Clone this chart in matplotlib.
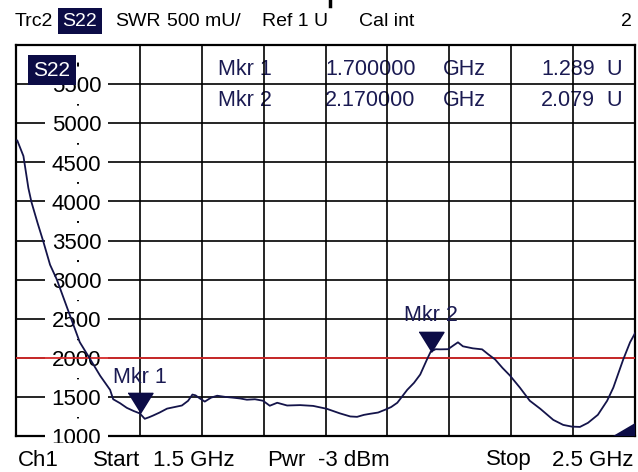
import numpy as np
import matplotlib.pyplot as plt
from matplotlib.patches import Polygon
from matplotlib.lines import Line2D

plt.rcParams['font.family'] = ['Liberation Sans', 'DejaVu Sans']
plt.rcParams['lines.scale_dashes'] = False

# trace S22 (SWR in mU)
freq = [1.500, 1.502, 1.506, 1.512, 1.520, 1.525, 1.535, 1.544, 1.555, 1.566,
        1.578, 1.590, 1.603, 1.620, 1.636, 1.652, 1.657, 1.668, 1.679, 1.690,
        1.700, 1.708, 1.715, 1.721, 1.732, 1.744, 1.756, 1.768, 1.778, 1.785,
        1.790, 1.797, 1.805, 1.815, 1.825, 1.838, 1.851, 1.862, 1.873, 1.886,
        1.899, 1.910, 1.922, 1.938, 1.959, 1.980, 2.002, 2.023, 2.040, 2.051,
        2.062, 2.072, 2.085, 2.096, 2.106, 2.116, 2.132, 2.143, 2.153, 2.164,
        2.170, 2.178, 2.185, 2.198, 2.207, 2.214, 2.222, 2.238, 2.253, 2.263,
        2.274, 2.286, 2.298, 2.314, 2.330, 2.347, 2.368, 2.384, 2.398, 2.411,
        2.424, 2.440, 2.455, 2.465, 2.481, 2.492, 2.500]
swr = [4780, 4780, 4700, 4580, 4170, 3990, 3720, 3490, 3190, 3000,
       2740, 2480, 2200, 1980, 1770, 1590, 1470, 1420, 1360, 1320,
       1289, 1220, 1240, 1260, 1300, 1350, 1370, 1390, 1450, 1530,
       1520, 1480, 1440, 1490, 1515, 1500, 1490, 1480, 1464, 1470,
       1451, 1387, 1425, 1390, 1395, 1385, 1348, 1290, 1250, 1245,
       1270, 1284, 1300, 1335, 1370, 1425, 1590, 1680, 1786, 1980,
       2079, 2110, 2108, 2110, 2160, 2198, 2147, 2121, 2108, 2044,
       1979, 1870, 1773, 1619, 1451, 1348, 1206, 1142, 1120, 1116,
       1168, 1271, 1451, 1619, 1979, 2198, 2314]

mkr_names = ['Mkr 1', 'Mkr 2']
mkr_freq = [1.70, 2.17]
mkr_swr = [1289, 2079]
mkr_freq_txt = ['1.700000', '2.170000']
mkr_val_txt = ['1.289', '2.079']

limit_swr = 2000
y_labels = [1000, 1500, 2000, 2500, 3000, 3500, 4000, 4500, 5000, 5500]

W, H = 638, 472
navy = '#0c0c46'
ink = '#1a1a52'
top, bot = 45, 436

def fx(x):
    return x / W

def fy(y):
    return 1 - y / H

fig = plt.figure(figsize=(W / 100, H / 100), dpi=100)
ax = fig.add_axes([fx(16), fy(bot), (635 - 16) / W, (bot - top) / H])
ax.set_xlim(1.5, 2.5)
ax.set_ylim(1000, 6000)

xt = [round(1.5 + 0.1 * i, 1) for i in range(11)]
ax.set_xticks([t for t in xt if t != 1.6])
ax.set_yticks(np.arange(1000, 6001, 500))
ax.tick_params(length=0, labelbottom=False, labelleft=False)
ax.grid(True, color='black', lw=1.2)
for s in ax.spines.values():
    s.set_linewidth(1.6)

# dashed scale line at 1.6 GHz with the value labels on it
div = (bot - top) / 10
pitch = div * 0.72
ax.axvline(1.6, color='black', lw=1.4,
           linestyle=(pitch - (div / 2 - 2) * 0.72, (4 * 0.72, pitch - 4 * 0.72)), zorder=1.6)
for v in y_labels:
    ax.annotate(str(v), (1.6, v), xytext=(-1, -2), textcoords='offset points',
                ha='center', va='center', fontsize=16, color='black',
                bbox=dict(facecolor='white', edgecolor='none', boxstyle='square,pad=0.3'),
                zorder=2.7)

ax.axhline(limit_swr, color='#d62a2a', lw=1.3, zorder=3.5)
ax.plot(freq, swr, color='#14144a', lw=1.3, zorder=4)

tri = [(-0.62, 1), (0.62, 1), (0, 0)]
for name, f, v in zip(mkr_names, mkr_freq, mkr_swr):
    ax.plot([f], [v], marker=tri, markersize=29, color=navy, lw=0, zorder=5)
    ax.annotate(name, (f, v), xytext=(0, 26), textcoords='offset points',
                ha='center', va='center', fontsize=15.5, color=ink, zorder=5)

# marker table
to_ax = ax.transAxes.inverted()
for i in range(2):
    yy = to_ax.transform(fig.transFigure.transform((0, fy([70, 100][i]))))[1]
    kw = dict(transform=ax.transAxes, va='center', fontsize=15.5, color=ink, zorder=1)
    ax.text((218 - 16) / 619, yy, mkr_names[i], ha='left', **kw)
    ax.text((325 - 16) / 619, yy, mkr_freq_txt[i], ha='left', **kw)
    ax.text((443 - 16) / 619, yy, 'GHz', ha='left', **kw)
    ax.text((595 - 16) / 619, yy, mkr_val_txt[i], ha='right', **kw)
    ax.text((606 - 16) / 619, yy, 'U', ha='left', **kw)

# trace label inside the diagram
fig.text(fx(52), fy(70), 'S22', ha='center', va='center', fontsize=15, color='white',
         bbox=dict(facecolor=navy, edgecolor='none', boxstyle='square,pad=0.28'), zorder=6)

ax.add_patch(Polygon([(0.9645, 0), (1, 0.033), (1, 0)], closed=True,
                     transform=ax.transAxes, facecolor=navy, edgecolor='none',
                     clip_on=False, zorder=5))

# white band below the diagram clips the lowest label
fig.add_artist(plt.Rectangle((0, 0), 1, fy(443), transform=fig.transFigure,
                             facecolor='white', edgecolor='none', zorder=5))

# header line
hy = fy(21)
fig.text(fx(15), hy, 'Trc2', ha='left', va='center', fontsize=14, zorder=7)
fig.text(fx(80), hy, 'S22', ha='center', va='center', fontsize=14, color='white',
         bbox=dict(facecolor=navy, edgecolor='none', boxstyle='square,pad=0.22'), zorder=7)
fig.text(fx(115), hy, 'SWR', ha='left', va='center', fontsize=14, zorder=7)
fig.text(fx(167), hy, '500 mU/', ha='left', va='center', fontsize=14, zorder=7)
fig.text(fx(262), hy, 'Ref 1 U', ha='left', va='center', fontsize=14, zorder=7)
fig.text(fx(359), hy, 'Cal int', ha='left', va='center', fontsize=14, zorder=7)
fig.text(fx(632), hy, '2', ha='right', va='center', fontsize=14, zorder=7)
fig.add_artist(Line2D([fx(330), fx(330)], [1, fy(6)], color='black', lw=2.5,
                      transform=fig.transFigure))

# footer line
by = fy(460)
fig.text(fx(18), by, 'Ch1', ha='left', va='center', fontsize=16, zorder=7)
fig.text(fx(93), by, 'Start', ha='left', va='center', fontsize=16, zorder=7)
fig.text(fx(153), by, '1.5 GHz', ha='left', va='center', fontsize=16, zorder=7)
fig.text(fx(267), by, 'Pwr', ha='left', va='center', fontsize=16, zorder=7)
fig.text(fx(318), by, '-3 dBm', ha='left', va='center', fontsize=16, zorder=7)
fig.text(fx(486), by, 'Stop', ha='left', va='center', fontsize=16, zorder=7)
fig.text(fx(633), by, '2.5 GHz', ha='right', va='center', fontsize=16, zorder=7)

fig.savefig('out.png', dpi=100)
